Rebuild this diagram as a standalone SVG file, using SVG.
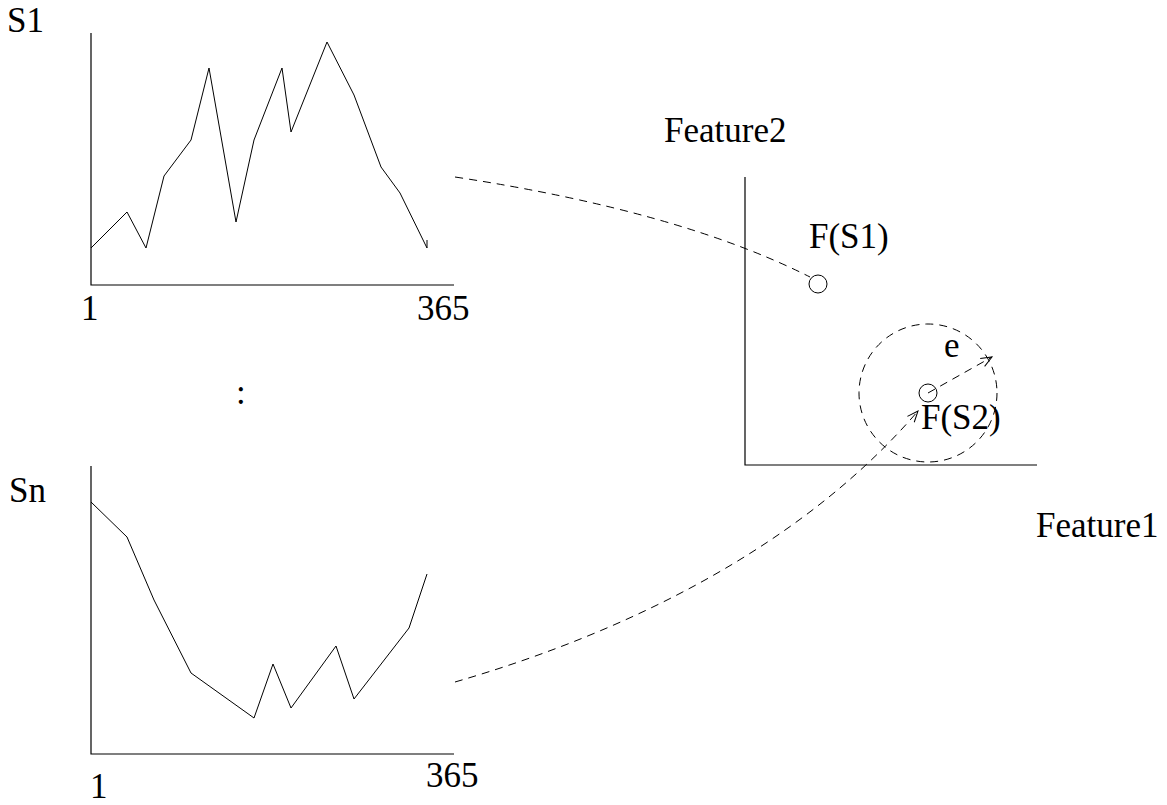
<svg xmlns="http://www.w3.org/2000/svg" width="1167" height="805" viewBox="0 0 1167 805">
<style>
text{font-family:"Liberation Serif","Times New Roman",serif;font-size:35px;fill:#000}
.ax{fill:none;stroke:#000;stroke-width:1.2}
.ln{fill:none;stroke:#000;stroke-width:1}
.ds{fill:none;stroke:#000;stroke-width:1;stroke-dasharray:8 6}
</style>
<defs>
<marker id="oa" markerUnits="userSpaceOnUse" markerWidth="12" markerHeight="10" refX="11" refY="4.5" orient="auto" overflow="visible">
<path d="M0,0 L11,4.5 L0,9" fill="none" stroke="#000" stroke-width="1"/>
</marker>
</defs>
<rect width="1167" height="805" fill="#fff"/>
<g id="chart-s1">
<path class="ax" d="M91,33 V285 H454"/>
<polyline class="ln" points="91,248 127,212 146,248 164,176 191,140 209,68 236,222 254,140 282,68 291,132 327,42 354,95 381,167 400,193 427,248"/>
<path class="ln" d="M427,240 V248"/>
<text x="7" y="32">S1</text>
<text x="81" y="320">1</text>
<text x="417" y="320">365</text>
</g>
<g id="ellipsis">
<text x="236" y="404">:</text>
</g>
<g id="chart-sn">
<path class="ax" d="M91,466 V754 H454"/>
<polyline class="ln" points="91,502 127,537 154,600 191,673 254,718 273,664 291,708 336,646 354,699 409,628 427,574"/>
<text x="9" y="502">Sn</text>
<text x="90" y="798">1</text>
<text x="426" y="787">365</text>
</g>
<g id="feature-space">
<path class="ax" d="M745,177 V465 H1037"/>
<text x="664" y="142">Feature2</text>
<text x="1036" y="537">Feature1</text>
</g>
<g id="fs1">
<circle class="ln" cx="818" cy="284" r="9"/>
<text x="809" y="248">F(S1)</text>
</g>
<g id="fs2">
<circle class="ln" cx="928" cy="393" r="9"/>
<circle class="ds" cx="928" cy="393" r="69"/>
<text x="921" y="429">F(S2)</text>
<text x="944" y="357">e</text>
</g>
<g id="connectors">
<path class="ds" d="M455,177 Q679,211 810,277"/>
<path class="ds" d="M455,682 C600,640 790,560 918,411" marker-end="url(#oa)"/>
<path class="ds" d="M928,393 L992,357" marker-end="url(#oa)"/>
</g>
</svg>
